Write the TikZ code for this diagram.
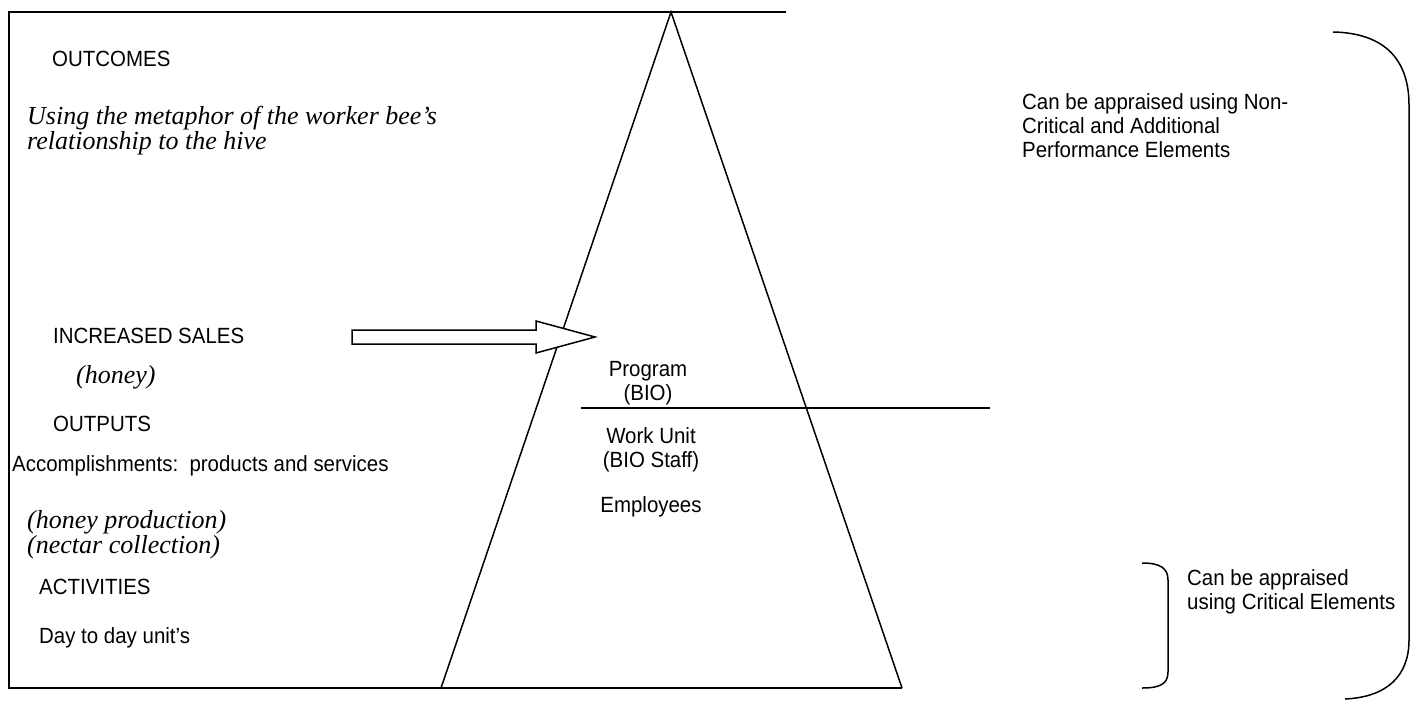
\documentclass[tikz,border=0pt]{standalone}
\usepackage{fontspec}
\setmainfont{Liberation Serif}
\setsansfont{Liberation Sans}[FakeStretch=0.93]
\begin{document}
\begin{tikzpicture}[x=1pt,y=-1pt,
  sans/.style={font=\sffamily\fontsize{22}{24}\selectfont, inner sep=0pt, anchor=base west},
  sansc/.style={font=\sffamily\fontsize{22}{24}\selectfont, inner sep=0pt, anchor=base},
  ital/.style={font=\rmfamily\itshape\fontsize{26}{25}\selectfont, inner sep=0pt, anchor=base west},
  ln/.style={line width=1.7pt, black},
  thin/.style={line width=1.5pt, black}]
\useasboundingbox (0,0) rectangle (1416,702);
% frame and triangle
\coordinate (tl) at (9,12);
\coordinate (tr) at (786,12);
\coordinate (bl) at (9,688);
\coordinate (apex) at (671,12);
\coordinate (tbl) at (441,688);
\coordinate (tbr) at (902,688);
\draw[ln] (tr) -- (tl) -- (bl) -- (tbr);
\draw[thin, line join=miter] (tbl) -- (apex) -- (tbr);
% middle line
\coordinate (ml) at (581,408);
\coordinate (mr) at (990,408);
\draw[thin] (ml) -- (mr);
% block arrow
\draw[thin, fill=white, line join=miter] (352,330) -- (536,330) -- (536,321) -- (595,337) -- (536,353) -- (536,344) -- (352,344) -- cycle;
% left texts
\node[sans] (outcomes) at (52,66) {OUTCOMES};
\node[ital] (m1) at (27,124) {Using the metaphor of the worker bee’s};
\node[ital] (m2) at (27,149) {relationship to the hive};
\node[sans] (sales) at (53,343) {INCREASED SALES};
\node[ital] (honey) at (76,383) {(honey)};
\node[sans] (outputs) at (53,431) {OUTPUTS};
\node[sans] (accomp) at (12,471) {Accomplishments:\ \ products and services};
\node[ital] (hp) at (27,528) {(honey production)};
\node[ital] (nc) at (27,553) {(nectar collection)};
\node[sans] (act) at (39,594) {ACTIVITIES};
\node[sans] (day) at (39,643) {Day to day unit’s};
% triangle texts
\node[sansc] (prog) at (648,376) {Program};
\node[sansc] (bio) at (648,400) {(BIO)};
\node[sansc] (wu) at (651,443) {Work Unit};
\node[sansc] (bios) at (651,467) {(BIO Staff)};
\node[sansc] (emp) at (651,512) {Employees};
% right texts
\node[sans] (r1) at (1022,109) {Can be appraised using Non-};
\node[sans] (r2) at (1022,133) {Critical and Additional};
\node[sans] (r3) at (1022,157) {Performance Elements};
\node[sans] (s1) at (1187,585) {Can be appraised};
\node[sans] (s2) at (1187,609) {using Critical Elements};
% brackets
\draw[thin] (1333,32) .. controls (1385,33) and (1409,60) .. (1409,105) -- (1409,640) .. controls (1409,675) and (1388,697) .. (1345,699);
\draw[thin] (1142,563) .. controls (1160,563) and (1168,568) .. (1168,580) -- (1168,672) .. controls (1168,684) and (1160,688) .. (1142,688);
\end{tikzpicture}
\end{document}
